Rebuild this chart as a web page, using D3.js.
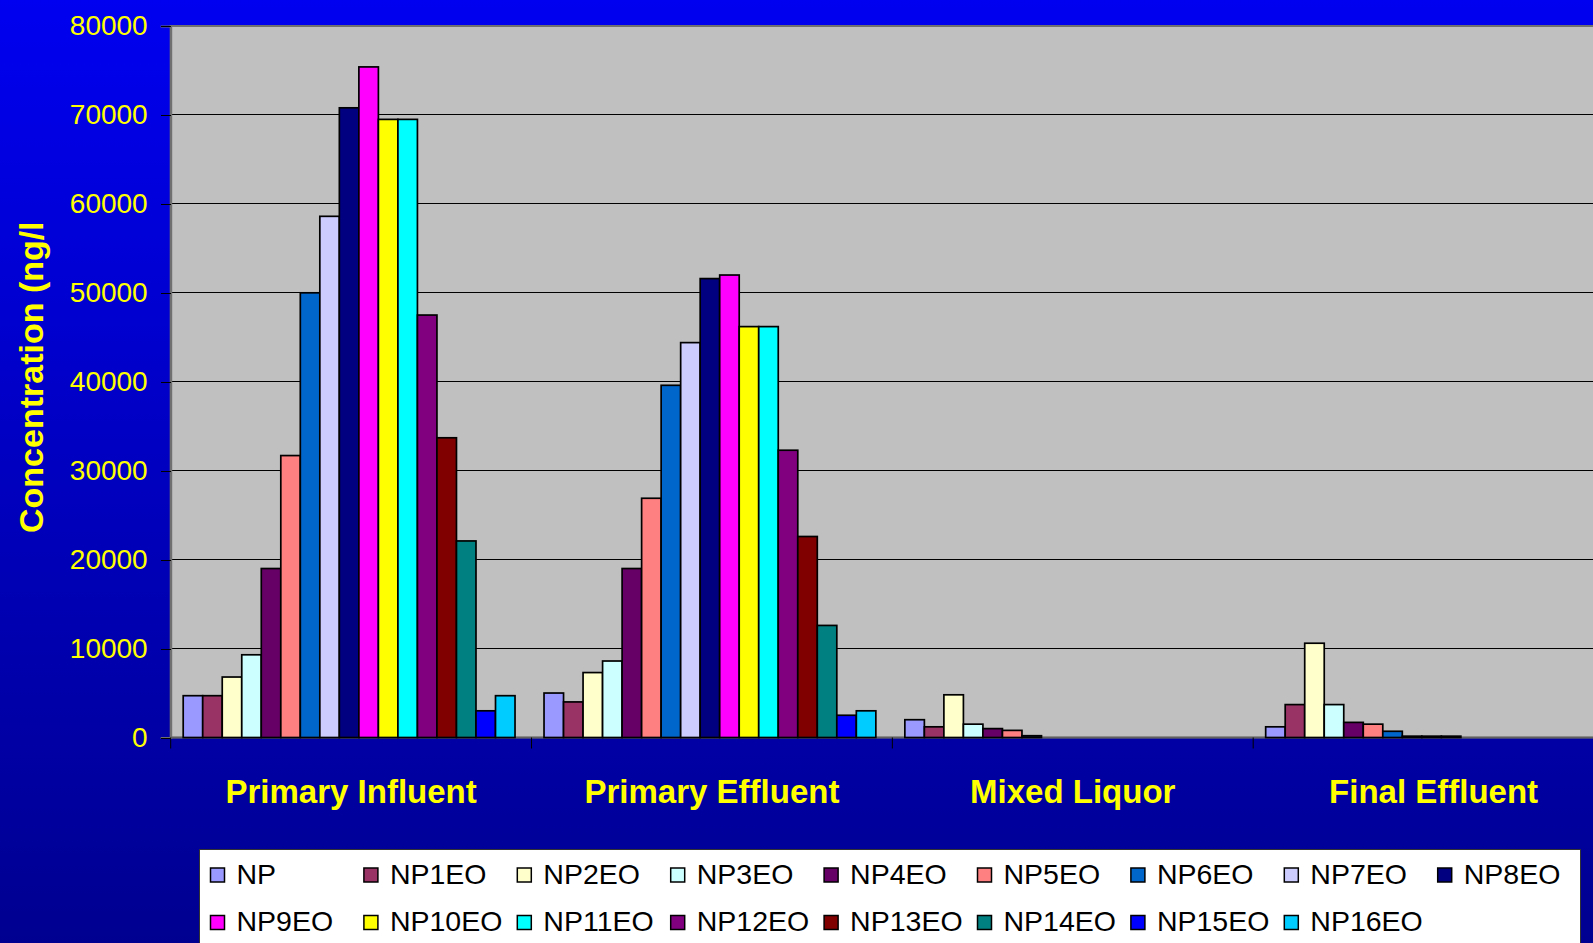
<!DOCTYPE html>
<html>
<head>
<meta charset="utf-8">
<script src="https://cdn.jsdelivr.net/npm/d3@7"></script>
<style>
  html, body { margin: 0; padding: 0; overflow: hidden; }
  svg { display: block; font-family: "Liberation Sans", Arial, sans-serif; }
</style>
</head>
<body>
<div id="chart"></div>
<script>
// Sample locations along the plant (x categories)
var categories = ["Primary Influent", "Primary Effluent", "Mixed Liquor", "Final Effluent"];

// One bar per nonylphenol / ethoxylate
var seriesNames = ["NP", "NP1EO", "NP2EO", "NP3EO", "NP4EO", "NP5EO", "NP6EO", "NP7EO", "NP8EO",
                   "NP9EO", "NP10EO", "NP11EO", "NP12EO", "NP13EO", "NP14EO", "NP15EO", "NP16EO"];

// Concentration (ng/l) for each series, per location
var primaryInfluent = [4700, 4700, 6800, 9300, 19000, 31700, 50000, 58600, 70800,
                       75400, 69500, 69500, 47500, 33700, 22100, 3000, 4700];
var primaryEffluent = [5000, 4000, 7300, 8600, 19000, 26900, 39600, 44400, 51600,
                       52000, 46200, 46200, 32300, 22600, 12600, 2500, 3000];
var mixedLiquor     = [2000, 1200, 4800, 1500, 1000, 800, 200, 0, 0,
                       0, 0, 0, 0, 0, 0, 0, 0];
var finalEffluent   = [1200, 3700, 10600, 3700, 1700, 1500, 700, 150, 150,
                       150, 0, 0, 0, 0, 0, 0, 0];

var yTicks = [0, 10000, 20000, 30000, 40000, 50000, 60000, 70000, 80000];

// Excel default palette
var colors = ["#9999FF", "#993366", "#FFFFCC", "#CCFFFF", "#660066", "#FF8080", "#0066CC", "#CCCCFF", "#000080",
              "#FF00FF", "#FFFF00", "#00FFFF", "#800080", "#800000", "#008080", "#0000FF", "#00CCFF"];

var values = [primaryInfluent, primaryEffluent, mixedLiquor, finalEffluent];

var W = 1593, H = 943;
var plot = {left: 170.7, top: 26, right: 1614, bottom: 737.5};

var svg = d3.select("#chart").append("svg")
    .attr("width", W)
    .attr("height", H);

// background gradient
var defs = svg.append("defs");
var grad = defs.append("linearGradient")
    .attr("id", "bg")
    .attr("x1", 0).attr("y1", 0).attr("x2", 0).attr("y2", 1);
grad.append("stop").attr("offset", "0%").attr("stop-color", "#0000F0");
grad.append("stop").attr("offset", "100%").attr("stop-color", "#000090");

defs.append("clipPath").attr("id", "titleClip")
  .append("rect").attr("x", 0).attr("y", 224).attr("width", 80).attr("height", 400);

svg.append("rect")
    .attr("width", W).attr("height", H)
    .attr("fill", "url(#bg)");

// scales
var x0 = d3.scaleBand()
    .domain(categories)
    .range([plot.left, plot.right])
    .padding(0);

var x1 = d3.scaleBand()
    .domain(seriesNames)
    .range([12.5, x0.bandwidth() - 16.5])
    .padding(0);

var y = d3.scaleLinear()
    .domain([0, 80000])
    .range([plot.bottom, plot.top]);

// plot area
svg.append("rect")
    .attr("x", plot.left).attr("y", plot.top)
    .attr("width", plot.right - plot.left)
    .attr("height", plot.bottom - plot.top)
    .attr("fill", "#C0C0C0")
    .attr("stroke", "#707070")
    .attr("stroke-width", 2);

// gridlines
svg.append("g")
    .attr("shape-rendering", "crispEdges")
    .selectAll("line")
    .data(yTicks.slice(1, -1))
    .enter().append("line")
    .attr("x1", plot.left).attr("x2", plot.right)
    .attr("y1", function(d){ return y(d); })
    .attr("y2", function(d){ return y(d); })
    .attr("stroke", "#000")
    .attr("stroke-width", 1);

// y axis
var yAxis = svg.append("g")
    .attr("transform", "translate(" + plot.left + ",0)")
    .call(d3.axisLeft(y).tickValues(yTicks).tickSize(10).tickPadding(13).tickFormat(d3.format("d")));
yAxis.select(".domain").attr("stroke", "#707070").attr("stroke-width", 2);
yAxis.selectAll(".tick line").attr("stroke", "#000").attr("shape-rendering", "crispEdges");
yAxis.selectAll(".tick text")
    .attr("fill", "#FFFF00")
    .style("font-size", "28px")
    .style("font-family", "'Liberation Sans', Arial, sans-serif");

// x axis
var xAxis = svg.append("g")
    .attr("transform", "translate(0," + plot.bottom + ")");
xAxis.append("line")
    .attr("x1", plot.left).attr("x2", plot.right)
    .attr("stroke", "#606060").attr("stroke-width", 1.5);
xAxis.selectAll(".xtick")
    .data(categories)
    .enter().append("line")
    .attr("class", "xtick")
    .attr("x1", function(d){ return x0(d); })
    .attr("x2", function(d){ return x0(d); })
    .attr("y1", 0).attr("y2", 11)
    .attr("stroke", "#000");
xAxis.selectAll(".xlabel")
    .data(categories)
    .enter().append("text")
    .attr("class", "xlabel")
    .attr("x", function(d){ return x0(d) + x0.bandwidth() / 2; })
    .attr("y", 803 - plot.bottom)
    .attr("text-anchor", "middle")
    .attr("fill", "#FFFF00")
    .style("font-size", "33px")
    .style("font-weight", "bold")
    .text(function(d){ return d; });

// bars
var groups = svg.append("g")
    .selectAll("g")
    .data(categories)
    .enter().append("g")
    .attr("transform", function(d){ return "translate(" + x0(d) + ",0)"; });

groups.selectAll("rect")
    .data(function(d, i){
        return values[i].map(function(v, j){ return {name: seriesNames[j], value: v, color: colors[j]}; });
    })
    .enter().append("rect")
    .filter(function(d){ return d.value > 0; })
    .attr("x", function(d){ return x1(d.name); })
    .attr("y", function(d){ return y(d.value); })
    .attr("width", x1.bandwidth())
    .attr("height", function(d){ return plot.bottom - y(d.value); })
    .attr("fill", function(d){ return d.color; })
    .attr("stroke", "#000")
    .attr("stroke-width", 1.7);

// y title
svg.append("g")
    .attr("clip-path", "url(#titleClip)")
  .append("text")
    .attr("transform", "translate(43,533) rotate(-90)")
    .attr("fill", "#FFFF00")
    .style("font-size", "34px")
    .style("font-weight", "bold")
    .text("Concentration (ng/l)");

// legend
var legend = svg.append("g");
legend.append("rect")
    .attr("x", 199.5).attr("y", 849.5)
    .attr("width", 1381).attr("height", 120)
    .attr("fill", "#fff")
    .attr("stroke", "#333")
    .attr("stroke-width", 1);

var item = legend.selectAll(".item")
    .data(seriesNames)
    .enter().append("g")
    .attr("class", "item")
    .attr("transform", function(d, i){
        return "translate(" + (210 + (i % 9) * 153.4) + "," + (875 + Math.floor(i / 9) * 47.5) + ")";
    });
item.append("rect")
    .attr("x", 0.5).attr("y", -7)
    .attr("width", 14).attr("height", 14)
    .attr("fill", function(d, i){ return colors[i]; })
    .attr("stroke", "#000")
    .attr("stroke-width", 1.5);
item.append("text")
    .attr("x", 26.5)
    .attr("y", 8.5)
    .attr("fill", "#000")
    .style("font-size", "28.5px")
    .text(function(d){ return d; });
</script>
</body>
</html>
